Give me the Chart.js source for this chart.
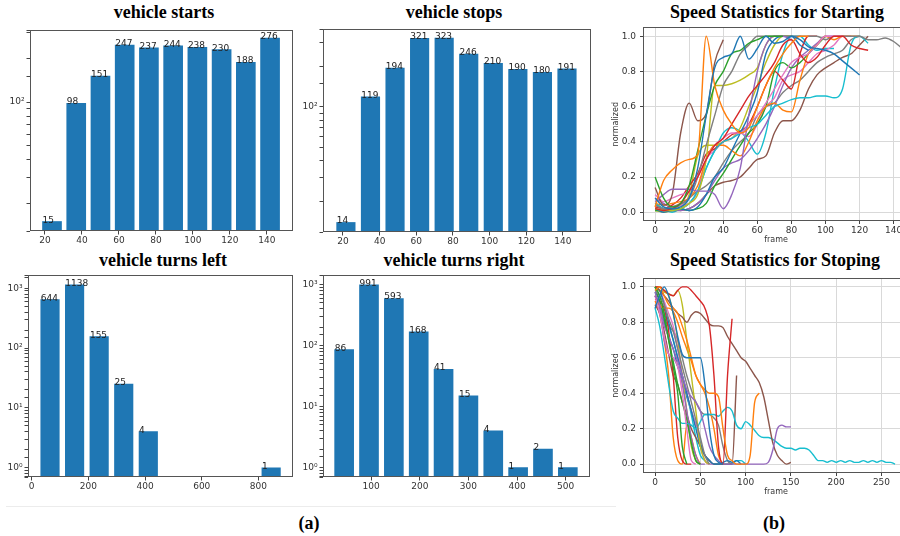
<!DOCTYPE html>
<html><head><meta charset="utf-8">
<script src="https://cdn.jsdelivr.net/npm/chart.js@4.4.1/dist/chart.umd.min.js"></script>
<style>
html,body{margin:0;padding:0;background:#fff;}
body{width:900px;height:536px;position:relative;overflow:hidden;}
canvas{position:absolute;}
.ttl{position:absolute;font-family:"Liberation Serif","Times New Roman",serif;font-weight:bold;font-size:18px;color:#000;white-space:nowrap;transform:translate(-50%,-50%);line-height:1;}
.sep{position:absolute;left:6px;top:506px;width:610px;height:0;border-top:1px solid #ececec;}
</style></head><body>
<div class="ttl" style="left:164px;top:12px">vehicle starts</div>
<div class="ttl" style="left:454px;top:12px">vehicle stops</div>
<div class="ttl" style="left:163px;top:260px">vehicle turns left</div>
<div class="ttl" style="left:454px;top:260px">vehicle turns right</div>
<div class="ttl" style="left:777px;top:12px">Speed Statistics for Starting</div>
<div class="ttl" style="left:775px;top:260px">Speed Statistics for Stoping</div>
<div class="sep"></div>
<div class="ttl" style="left:309px;top:523px">(a)</div>
<div class="ttl" style="left:774px;top:523px">(b)</div>
<canvas id="c1" width="300" height="235" style="left:0;top:20px"></canvas>
<canvas id="c2" width="300" height="235" style="left:300px;top:20px"></canvas>
<canvas id="c3" width="300" height="232" style="left:0;top:268px"></canvas>
<canvas id="c4" width="300" height="232" style="left:300px;top:268px"></canvas>
<canvas id="c5" width="320" height="232" style="left:600px;top:18px"></canvas>
<canvas id="c6" width="320" height="232" style="left:600px;top:268px"></canvas>
<script>
// ---------- bar data (histogram bin centres and counts) ----------
const startBins   = [23.8, 36.9, 50.0, 63.1, 76.2, 89.3, 102.4, 115.5, 128.6, 141.7];
const startCounts = [15, 98, 151, 247, 237, 244, 238, 230, 188, 276];
const stopBins    = [21.6, 35.0, 48.4, 61.8, 75.2, 88.6, 102.0, 115.4, 128.8, 142.2];
const stopCounts  = [14, 119, 194, 321, 323, 246, 210, 190, 180, 191];
const leftBins    = [64.6, 151.3, 238.0, 324.7, 411.4, 498.1, 584.8, 671.5, 758.2, 844.9];
const leftCounts  = [644, 1138, 155, 25, 4, null, null, null, null, 1];
const rightBins   = [44.5, 95.6, 146.7, 197.8, 248.9, 300.0, 351.1, 402.2, 453.3, 504.4];
const rightCounts = [86, 991, 593, 168, 41, 15, 4, 1, 2, 1];

// ---------- speed curves (normalized), one value every 5 frames ----------
const frameStep = 5;
const startRun01 = [0.08,0.03,0.02,0.03,0.08,0.25,0.55,0.82,0.88,0.9,1.0,0.87,0.93,1.0,0.96,0.97,1.0,0.98,0.94,0.93,0.92,0.9,0.86,0.82,0.78];
const startRun02 = [0.03,0.18,0.24,0.28,0.3,0.33,1.0,0.72,0.58,0.5,0.45,0.48,0.6,0.72,0.82,0.9,0.96,1.0,1.0];
const startRun03 = [0.2,0.08,0.03,0.05,0.15,0.35,0.55,0.72,0.8,0.9,0.92,0.96,0.98,1.0,1.0,1.0];
const startRun04 = [0.02,0.01,0.02,0.05,0.12,0.2,0.3,0.38,0.42,0.5,0.58,0.66,0.72,0.78,0.85,0.95,0.98,0.9,0.85,0.88,0.95,1.0,1.0,0.95,0.93,0.92];
const startRun05 = [0.06,0.1,0.13,0.13,0.13,0.12,0.12,0.1,0.02,0.1,0.25,0.55,0.8,0.95,1.0,1.0,0.98];
const startRun06 = [0.14,0.04,0.1,0.45,0.62,0.52,0.56,0.85,0.98];
const startRun07 = [0.1,0.06,0.08,0.1,0.12,0.2,0.3,0.38,0.42,0.45,0.45,0.5,0.55,0.62,0.7,0.78,0.85,0.88,0.9,0.95,1.0,1.0,1.0];
const startRun08 = [0.04,0.02,0.03,0.05,0.08,0.2,0.38,0.55,0.72,0.8,0.9,0.95,1.0,1.0,1.0,1.0,1.0,1.0,1.0,1.0,0.98,1.0,1.0,1.0,1.0,0.98,0.98,0.99,0.97,0.93];
const startRun09 = [0.02,0.01,0.01,0.02,0.05,0.1,0.3,0.72,0.72,0.73,0.75,0.78,0.82,0.95,1.0,1.0,1.0];
const startRun10 = [0.05,0.02,0.01,0.02,0.05,0.12,0.25,0.35,0.4,0.42,0.45,0.48,0.5,0.55,0.6,0.62,0.64,0.65,0.65,0.66,0.66,0.65,0.7,0.95,1.0,0.96];
const startRun11 = [0.02,0.0,0.01,0.02,0.01,0.03,0.1,0.2,0.25,0.35,0.45,0.55,0.68,0.9,0.98,1.0,1.0,0.95,0.92];
const startRun12 = [0.05,0.04,0.05,0.06,0.08,0.15,0.3,0.38,0.38,0.35,0.32,0.4,0.52,0.6,0.62,0.58,0.57,0.75,0.9,0.95,1.0,0.98,1.0,1.0,1.0];
const startRun13 = [0.01,0.01,0.02,0.02,0.01,0.02,0.05,0.15,0.22,0.3,0.38,0.45,0.5,0.6,0.8,0.85,0.82,0.85,0.9,0.95,1.0];
const startRun14 = [0.03,0.02,0.04,0.08,0.15,0.22,0.33,0.36,0.4,0.44,0.46,0.5,0.6,0.72,0.8,0.75,0.7,0.9,1.0,1.0];
const startRun15 = [0.08,0.05,0.02,0.01,0.02,0.05,0.1,0.18,0.25,0.28,0.3,0.35,0.42,0.5,0.6,0.72,0.82,0.88,0.92,0.96,1.0,1.0];
const startRun16 = [0.05,0.02,0.01,0.01,0.02,0.05,0.1,0.15,0.17,0.18,0.2,0.25,0.3,0.32,0.45,0.52,0.52,0.58,0.7,0.78,0.82,0.85,0.88,0.9,0.95,1.0];
const startRun17 = [0.03,0.02,0.03,0.04,0.05,0.12,0.3,0.35,0.4,0.42,0.45,0.43,0.5,0.6,0.65,0.75,0.78,0.8,0.85,0.9,0.92,0.95,1.0,1.0];
const startRun18 = [0.02,0.01,0.02,0.04,0.08,0.12,0.15,0.2,0.28,0.35,0.4,0.45,0.55,0.6,0.62,0.68,0.72,0.75,0.8,0.85,0.88,0.9,0.92,0.98,1.0];
const startRun19 = [0.01,0.0,0.01,0.02,0.1,0.32,0.38,0.38,0.4,0.42,0.48,0.6,0.72,0.85,0.95,1.0,1.0];
const startRun20 = [0.02,0.01,0.0,0.02,0.05,0.12,0.25,0.35,0.45,0.48,0.46,0.4,0.33,0.45,0.7,0.9,1.0,1.0,0.95,0.92,0.93,0.93];

const stopRun01 = [0.88,0.95,1.0,0.95,0.85,0.72,0.62,0.6,0.6,0.6,0.6,0.45,0.2,0.05,0.01,0.0];
const stopRun02 = [0.98,1.0,0.95,0.9,0.88,0.85,0.78,0.7,0.6,0.5,0.45,0.42,0.4,0.4,0.38,0.2,0.05,0.02,0.0,0.0,0.0,0.05,0.35,0.4];
const stopRun03 = [1.0,0.95,0.85,0.7,0.55,0.4,0.1,0.0];
const stopRun04 = [1.0,1.0,0.98,0.96,0.95,0.98,1.0,1.0,0.98,0.95,0.92,0.88,0.78,0.5,0.1,0.0,0.5,0.82];
const stopRun05 = [0.95,0.9,0.78,0.72,0.65,0.58,0.5,0.42,0.38,0.35,0.3,0.2,0.1,0.05,0.02,0.0,0.0,0.0,0.0,0.0,0.0,0.0,0.0,0.0,0.0,0.01,0.08,0.2,0.22,0.21,0.21];
const stopRun06 = [1.0,0.98,0.95,0.92,0.88,0.85,0.83,0.8,0.84,0.86,0.85,0.82,0.79,0.78,0.78,0.77,0.72,0.68,0.64,0.6,0.58,0.54,0.5,0.46,0.38,0.25,0.12,0.05,0.02,0.0,0.01];
const stopRun07 = [0.95,0.85,0.72,0.62,0.6,0.55,0.4,0.2,0.02,0.0];
const stopRun08 = [0.98,0.95,0.9,0.82,0.75,0.65,0.55,0.45,0.35,0.25,0.15,0.05,0.0];
const stopRun09 = [1.0,0.98,0.97,0.96,0.95,0.98,0.9,0.7,0.5,0.3,0.1,0.02,0.0];
const stopRun10 = [0.88,0.78,0.62,0.45,0.3,0.26,0.23,0.23,0.22,0.2,0.24,0.28,0.28,0.28,0.27,0.3,0.32,0.3,0.22,0.2,0.24,0.22,0.19,0.16,0.15,0.15,0.14,0.12,0.1,0.09,0.09,0.08,0.09,0.09,0.08,0.05,0.02,0.02,0.01,0.02,0.01,0.02,0.01,0.02,0.01,0.01,0.02,0.01,0.02,0.01,0.02,0.01,0.01,0.0];
const stopRun11 = [1.0,0.98,0.9,0.8,0.7,0.6,0.5,0.4,0.3,0.2,0.1,0.05,0.02,0.0,0.0,0.01,0.02,0.01,0.02,0.0];
const stopRun12 = [0.95,0.9,0.88,0.88,0.86,0.8,0.72,0.65,0.58,0.5,0.45,0.4,0.32,0.2,0.05,0.0];
const stopRun13 = [1.0,0.92,0.82,0.7,0.58,0.45,0.35,0.25,0.12,0.02,0.0];
const stopRun14 = [0.93,0.92,0.88,0.75,0.5,0.15,0.02,0.0,0.0];
const stopRun15 = [0.97,0.88,0.7,0.62,0.6,0.55,0.45,0.3,0.15,0.05,0.0,0.0];
const stopRun16 = [0.9,0.85,0.75,0.62,0.5,0.45,0.35,0.28,0.2,0.15,0.1,0.05,0.02,0.0,0.0,0.0,0.0,0.0,0.5];
const stopRun17 = [1.0,0.98,0.92,0.85,0.78,0.65,0.5,0.4,0.3,0.22,0.1,0.02,0.0,0.0];
const stopRun18 = [0.95,0.9,0.82,0.78,0.75,0.7,0.6,0.5,0.42,0.35,0.3,0.28,0.28,0.26,0.22,0.1,0.02,0.0];
const stopRun19 = [1.0,1.0,0.98,0.95,0.85,0.7,0.5,0.3,0.1,0.02,0.0];
const stopRun20 = [0.95,0.9,0.85,0.78,0.7,0.6,0.5,0.4,0.28,0.15,0.05,0.02,0.0,0.0,0.0,0.0,0.0,0.0,0.02,0.02,0.0];
const stopRun21 = [0.97,0.92,0.8,0.72,0.65,0.55,0.48,0.38,0.3,0.22,0.12,0.05,0.02,0.0,0.0,0.0];
const stopRun22 = [0.92,0.85,0.7,0.5,0.15,0.02,0.0,0.22,0.15,0.05,0.0];

const startRuns = [startRun01,startRun02,startRun03,startRun04,startRun05,startRun06,startRun07,startRun08,startRun09,startRun10,
                   startRun11,startRun12,startRun13,startRun14,startRun15,startRun16,startRun17,startRun18,startRun19,startRun20];
const stopRuns  = [stopRun01,stopRun02,stopRun03,stopRun04,stopRun05,stopRun06,stopRun07,stopRun08,stopRun09,stopRun10,stopRun11,
                   stopRun12,stopRun13,stopRun14,stopRun15,stopRun16,stopRun17,stopRun18,stopRun19,stopRun20,stopRun21,stopRun22];

// ---------- styling ----------
const palette = ['#1f77b4','#ff7f0e','#2ca02c','#d62728','#9467bd','#8c564b','#e377c2','#7f7f7f','#bcbd22','#17becf'];
const barColor = '#1f77b4';
const FAM = '"DejaVu Sans", sans-serif';
const tickFont = {family: FAM, size: 9};

const frameBox = {
  id: 'frameBox',
  afterDraw(chart) {
    const {ctx, chartArea: a} = chart;
    ctx.save();
    ctx.strokeStyle = '#555'; ctx.lineWidth = 1;
    ctx.strokeRect(Math.round(a.left) + 0.5, Math.round(a.top) + 0.5, Math.round(a.right - a.left) - 1, Math.round(a.bottom - a.top) - 1);
    ctx.restore();
  }
};
const valueLabels = {
  id: 'valueLabels',
  afterDatasetsDraw(chart) {
    const ctx = chart.ctx, ds = chart.data.datasets[0], meta = chart.getDatasetMeta(0);
    ctx.save();
    ctx.font = '9px ' + FAM; ctx.fillStyle = '#222';
    ctx.textAlign = 'left'; ctx.textBaseline = 'alphabetic';
    meta.data.forEach((bar, i) => {
      const p = ds.data[i];
      if (p.y == null) return;
      const {x, y, width} = bar.getProps(['x', 'y', 'width'], true);
      ctx.fillText(String(p.y), x - width / 2, y + 1);
    });
    ctx.restore();
  }
};
const SUP = {'-':'\u207B','0':'\u2070','1':'\u00B9','2':'\u00B2','3':'\u00B3'};
function logLabel(v) {
  const l = Math.log10(v), r = Math.round(l);
  if (Math.abs(l - r) > 1e-6) return '';
  return '10' + String(r).split('').map(c => SUP[c]).join('');
}

function makeBar(id, bins, counts, o) {
  const axisGrid = {display: true, drawOnChartArea: false, drawTicks: true, tickLength: 3.5, tickColor: '#444', offset: false};
  new Chart(document.getElementById(id), {
    type: 'bar',
    data: {datasets: [{data: bins.map((b, i) => ({x: b, y: counts[i]})), backgroundColor: barColor, borderWidth: 0, barThickness: o.bw}]},
    options: {
      responsive: false, animation: false, events: [],
      layout: {padding: o.pad},
      plugins: {legend: {display: false}, tooltip: {enabled: false}},
      scales: {
        x: {type: 'linear', min: o.xMin, max: o.xMax, offset: false, grid: axisGrid, border: {display: false},
            ticks: {stepSize: o.xStep, includeBounds: false, autoSkip: false, maxRotation: 0, font: tickFont, color: '#333', padding: 1},
            afterFit: s => { s.height = o.xH; }},
        y: {type: 'logarithmic', min: o.yMin, max: o.yMax, grid: axisGrid, border: {display: false},
            ticks: {autoSkip: false, callback: v => logLabel(v), font: tickFont, color: '#333', padding: 2},
            afterFit: s => { s.width = o.yW; }}
      }
    },
    plugins: [valueLabels, frameBox]
  });
}

function makeLines(id, runs, o) {
  const grid = {color: '#d9d9d9', lineWidth: 1, tickColor: '#444', tickLength: 3};
  new Chart(document.getElementById(id), {
    type: 'line',
    data: {datasets: runs.map((r, i) => ({
      data: r.map((v, j) => ({x: j * frameStep, y: v})),
      borderColor: palette[i % 10], borderWidth: 1.4, pointRadius: 0, fill: false,
      cubicInterpolationMode: 'monotone'
    }))},
    options: {
      responsive: false, animation: false, events: [],
      layout: {padding: o.pad},
      plugins: {legend: {display: false}, tooltip: {enabled: false}},
      scales: {
        x: {type: 'linear', min: o.xMin, max: o.xMax, grid: grid, border: {display: false},
            ticks: {stepSize: o.xStep, includeBounds: false, maxRotation: 0, font: tickFont, color: '#333', padding: 1},
            title: {display: true, text: 'frame', font: {family: FAM, size: 8}, color: '#333', padding: {top: 0, bottom: o.xtb}},
            afterFit: s => { s.height = o.xH; }},
        y: {type: 'linear', min: -0.05, max: 1.05, grid: grid, border: {display: false},
            ticks: {stepSize: 0.2, includeBounds: false, font: tickFont, color: '#333', padding: 4, callback: v => v.toFixed(1)},
            title: {display: true, text: 'normalized', font: {family: FAM, size: 8}, color: '#333', padding: {top: 11, bottom: 0}},
            afterFit: s => { s.width = o.yW; }}
      }
    },
    plugins: [frameBox]
  });
}

makeBar('c1', startBins, startCounts, {pad: {top: 10, right: 7, left: 0, bottom: 0}, yW: 30, xH: 24, xMin: 11.9, xMax: 154.1, xStep: 20, yMin: 12.9, yMax: 314, bw: 19});
makeBar('c2', stopBins, stopCounts, {pad: {top: 9, right: 9, left: 0, bottom: 0}, yW: 23, xH: 23, xMin: 9.1, xMax: 155.3, xStep: 20, yMin: 11.9, yMax: 377, bw: 18.5});
makeBar('c3', leftBins, leftCounts, {pad: {top: 5, right: 7, left: 0, bottom: 0}, yW: 28, xH: 23, xMin: -13.1, xMax: 922, xStep: 200, yMin: 0.72, yMax: 1637, bw: 18.5});
makeBar('c4', rightBins, rightCounts, {pad: {top: 6, right: 10, left: 0, bottom: 0}, yW: 23, xH: 23, xMin: 1, xMax: 550, xStep: 100, yMin: 0.714, yMax: 1417, bw: 19});
makeLines('c5', startRuns, {pad: {top: 7, right: 11, left: 0, bottom: 0}, yW: 43, xH: 29, xMin: -7.1, xMax: 149, xStep: 20, xtb: 5});
makeLines('c6', stopRuns, {pad: {top: 10, right: 11, left: 0, bottom: 0}, yW: 43, xH: 27, xMin: -13.35, xMax: 280.4, xStep: 50, xtb: 3});
</script>
</body></html>
